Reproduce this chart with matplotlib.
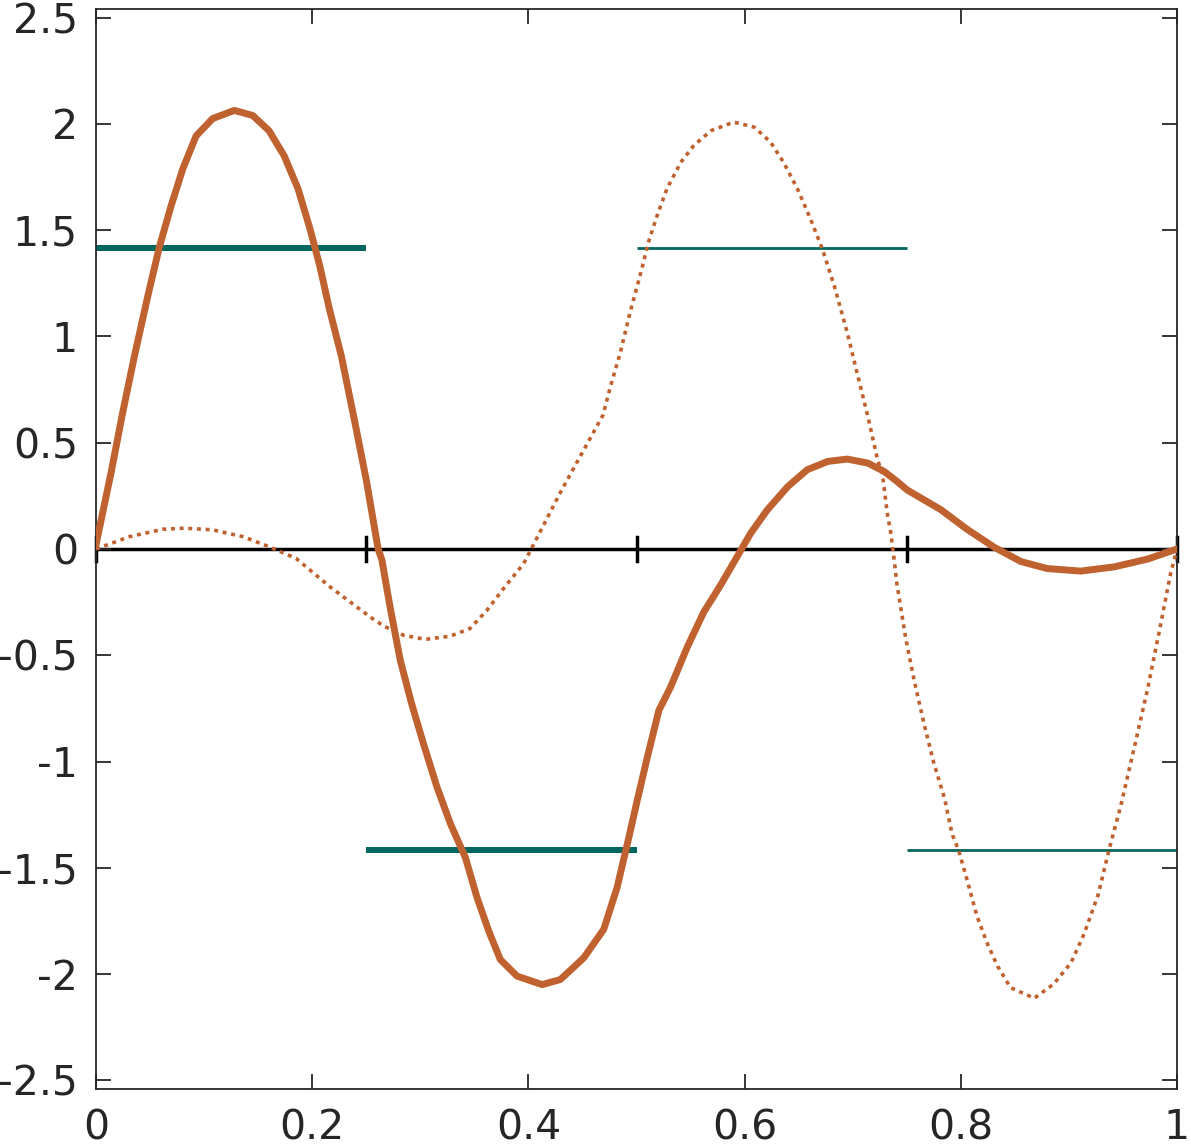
import matplotlib
matplotlib.use('Agg')
import matplotlib.pyplot as plt

plt.rcParams['font.family'] = ['DejaVu Sans']

# thick solid curve
solid_x = [0, 0.0139, 0.0247, 0.0355, 0.0479, 0.0586, 0.0694, 0.0803, 0.0926, 0.108,
           0.128, 0.145, 0.160, 0.174, 0.187, 0.198, 0.207, 0.216, 0.227, 0.239,
           0.250, 0.261, 0.2645, 0.272, 0.2815, 0.292, 0.303, 0.3155, 0.328, 0.3417,
           0.3525, 0.3633, 0.374, 0.3895, 0.4127, 0.4296, 0.4512, 0.4697, 0.482, 0.4929,
           0.5006, 0.51, 0.5207, 0.5315, 0.547, 0.5623, 0.5778, 0.5932, 0.6056, 0.621,
           0.640, 0.658, 0.677, 0.695, 0.714, 0.729, 0.741, 0.7506, 0.7815, 0.806,
           0.831, 0.8556, 0.880, 0.911, 0.942, 0.973, 1.0]
solid_y = [0.02, 0.358, 0.642, 0.906, 1.189, 1.42, 1.613, 1.788, 1.943, 2.025,
           2.063, 2.039, 1.968, 1.850, 1.693, 1.505, 1.332, 1.127, 0.907, 0.608,
           0.325, 0.0, -0.052, -0.272, -0.524, -0.728, -0.917, -1.121, -1.294, -1.451,
           -1.640, -1.797, -1.931, -2.009, -2.049, -2.025, -1.923, -1.789, -1.593, -1.357,
           -1.184, -0.980, -0.759, -0.650, -0.461, -0.296, -0.170, -0.035, 0.074, 0.184,
           0.294, 0.373, 0.412, 0.423, 0.404, 0.365, 0.318, 0.277, 0.185, 0.092,
           0.008, -0.059, -0.092, -0.104, -0.084, -0.047, 0.0]

# thin dotted curve
dot_x = [0, 0.031, 0.062, 0.082, 0.108, 0.136, 0.160, 0.185, 0.217, 0.2537,
         0.266, 0.2846, 0.3046, 0.3278, 0.346, 0.3617, 0.377, 0.3957, 0.43, 0.469,
         0.476, 0.485, 0.494, 0.504, 0.511, 0.519, 0.528, 0.541, 0.553, 0.569,
         0.590, 0.609, 0.624, 0.636, 0.649, 0.661, 0.672, 0.683, 0.695, 0.704,
         0.714, 0.723, 0.7275, 0.732, 0.735, 0.738, 0.741, 0.749, 0.757, 0.766,
         0.775, 0.785, 0.792, 0.798, 0.806, 0.815, 0.825, 0.834, 0.846, 0.868,
         0.886, 0.902, 0.914, 0.927, 0.937, 0.948, 0.961, 0.973, 0.985, 0.994, 1.0]
dot_y = [0.0, 0.058, 0.093, 0.098, 0.090, 0.058, 0.011, -0.044, -0.18, -0.32,
         -0.362, -0.406, -0.425, -0.410, -0.374, -0.288, -0.186, -0.068, 0.27, 0.63,
         0.766, 0.923, 1.112, 1.30, 1.442, 1.567, 1.693, 1.819, 1.898, 1.968,
         2.008, 1.984, 1.914, 1.819, 1.693, 1.552, 1.410, 1.237, 1.017, 0.829,
         0.624, 0.42, 0.352, 0.168, 0.084, -0.036, -0.168, -0.419, -0.621, -0.822,
         -1.006, -1.174, -1.342, -1.417, -1.560, -1.728, -1.862, -1.962, -2.063, -2.113,
         -2.046, -1.946, -1.811, -1.627, -1.417, -1.208, -0.922, -0.654, -0.352, -0.117, 0.0]

# piecewise constant levels
level_edges = [0, 0.25, 0.5, 0.75, 1.0]
level_vals = [1.414, -1.414, 1.414, -1.414]
level_widths = [4.3, 4.3, 2.0, 2.0]

node_ticks = [0, 0.25, 0.5, 0.75, 1.0]

orange = '#C0622F'
teal = '#00665E'
gray = '#262626'

fig = plt.figure(figsize=(11.91, 11.47), dpi=100)
ax = fig.add_axes([96 / 1191, 1 - 1089 / 1147, (1177 - 96) / 1191, (1089 - 9) / 1147])

# zero line with node marks
ax.axhline(0, color='black', lw=2.5, zorder=1)
for t in node_ticks:
    ax.plot([t, t], [-0.055, 0.055], color='black', lw=2.5, zorder=1, clip_on=False)

for i in range(4):
    ax.plot(level_edges[i:i + 2], [level_vals[i]] * 2, color=teal,
            lw=level_widths[i], solid_capstyle='butt', zorder=2)

ax.plot(dot_x, dot_y, color=orange, lw=2.6, linestyle=(0, (1.1, 1.3)), zorder=3)
ax.plot(solid_x, solid_y, color=orange, lw=5, zorder=4)

ax.set_xlim(0, 1)
ax.set_ylim(-2.54, 2.54)
ax.set_xticks([0, 0.2, 0.4, 0.6, 0.8, 1])
ax.set_xticklabels(['0', '0.2', '0.4', '0.6', '0.8', '1'])
ax.set_yticks([-2.5, -2, -1.5, -1, -0.5, 0, 0.5, 1, 1.5, 2, 2.5])
ax.set_yticklabels(['-2.5', '-2', '-1.5', '-1', '-0.5', '0', '0.5', '1', '1.5', '2', '2.5'])
ax.tick_params(direction='in', top=True, right=True, length=11, width=1.3,
               colors=gray, labelsize=29.5)
ax.tick_params(axis='x', pad=14)
ax.tick_params(axis='y', pad=13)
for s in ax.spines.values():
    s.set_color(gray)
    s.set_linewidth(1.3)

fig.savefig('out.png', dpi=100)
